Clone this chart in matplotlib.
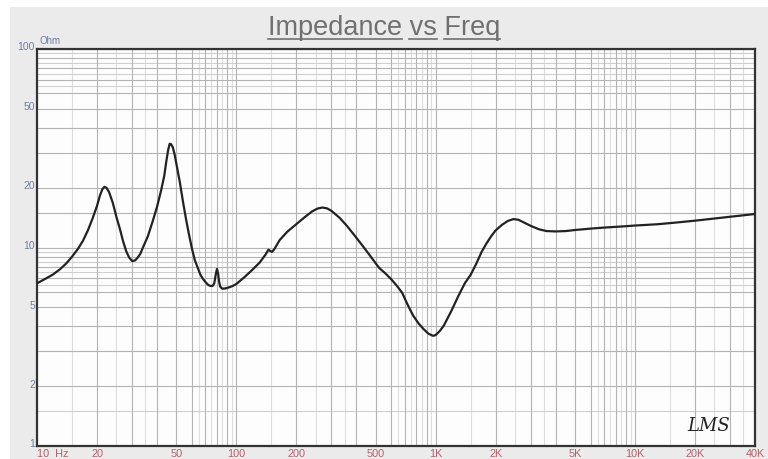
import numpy as np
import matplotlib
matplotlib.use("Agg")
import matplotlib.pyplot as plt
from matplotlib.patches import Rectangle
import matplotlib.transforms as mtransforms

# impedance curve (Hz, Ohm)
freq = [10, 11, 12, 13, 14, 15, 16, 17, 18, 19, 20, 20.7, 21.3, 21.8, 22.3, 23, 24, 25,
        26, 27, 28, 29, 30, 31, 32, 33, 34, 36, 38, 40, 42, 43.5, 44.5, 45.5, 46.3, 47,
        48, 49, 50, 52, 54, 56, 58, 60, 62, 64, 66, 68, 70, 72, 74, 76, 77.5, 79, 80,
        81, 82, 83, 85, 88, 92, 96, 100, 110, 120, 131, 140, 145, 148, 151, 155, 165,
        180, 200, 220, 240, 255, 270, 285, 300, 330, 360, 400, 440, 480, 520, 560, 600,
        640, 680, 720, 770, 820, 870, 920, 970, 1000, 1050, 1100, 1200, 1300, 1400,
        1500, 1600, 1700, 1800, 1900, 2000, 2150, 2300, 2450, 2600, 2800, 3000, 3300,
        3600, 4000, 4500, 5000, 6000, 7000, 8000, 9000, 10000, 13000, 16000, 20000,
        25000, 30000, 35000, 40000]
imped = [6.6, 6.95, 7.3, 7.75, 8.3, 9.0, 9.8, 10.8, 12.2, 14.0, 16.2, 18.3, 19.7, 20.2,
         20.0, 19.0, 16.8, 14.3, 12.5, 10.8, 9.6, 8.9, 8.55, 8.6, 8.9, 9.3, 10.0, 11.4,
         13.5, 16.0, 19.5, 23.0, 27.0, 31.0, 33.3, 33.2, 32.0, 29.5, 26.5, 21.5, 17.0,
         13.8, 11.5, 9.8, 8.6, 7.9, 7.3, 6.95, 6.7, 6.5, 6.4, 6.4, 6.6, 7.4, 7.8, 7.4,
         6.7, 6.35, 6.2, 6.22, 6.3, 6.4, 6.55, 7.1, 7.7, 8.4, 9.2, 9.75, 9.6, 9.5, 9.8,
         10.9, 12.0, 13.1, 14.2, 15.2, 15.7, 15.9, 15.75, 15.3, 14.1, 12.8, 11.2, 9.9,
         8.8, 7.9, 7.4, 6.9, 6.4, 5.9, 5.2, 4.55, 4.15, 3.88, 3.68, 3.59, 3.62, 3.8,
         4.05, 4.8, 5.7, 6.6, 7.3, 8.3, 9.5, 10.5, 11.4, 12.2, 13.0, 13.6, 13.9, 13.8,
         13.3, 12.85, 12.35, 12.1, 12.05, 12.1, 12.25, 12.45, 12.6, 12.7, 12.8, 12.9,
         13.1, 13.35, 13.65, 14.0, 14.3, 14.55, 14.75]

x_ticks = [20, 50, 100, 200, 500, 1000, 2000, 5000, 10000, 20000, 40000]
x_labels = ["20", "50", "100", "200", "500", "1K", "2K", "5K", "10K", "20K", "40K"]
y_ticks = [1, 2, 5, 10, 20, 50, 100]
y_labels = ["1", "2", "5", "10", "20", "50", "100"]

title_words = ["Impedance", "vs", "Freq"]

fig = plt.figure(figsize=(7.68, 4.6), dpi=100)
fig.patch.set_facecolor("white")
fig.patches.append(Rectangle((10 / 768, 0), 1, 1 - 8 / 460, transform=fig.transFigure,
                             facecolor="#ebebeb", edgecolor="none", zorder=-10))

ax = fig.add_axes([37 / 768, 1 - 447 / 460, 718 / 768, 397 / 460])
ax.set_facecolor("#fdfdfd")
ax.set_xscale("log")
ax.set_yscale("log")
ax.set_xlim(10, 40000)
ax.set_ylim(1, 100)

# grid, LMS style
strong = [2, 3, 4, 5, 6, 7, 8, 9]
light_x = [1.5, 2.5, 3.5, 6.5, 7.5, 8.5, 9.5]
light_y = [1.5, 6.5, 7.5, 8.5, 9.5]
for dec in [10, 100, 1000, 10000]:
    for m in strong + [10]:
        v = dec * m
        if v < 40000:
            ax.axvline(v, color="#b4b4b4", lw=0.8, zorder=1)
    for m in light_x:
        v = dec * m
        if v < 40000:
            ax.axvline(v, color="#dedede", lw=0.8, zorder=0.5)
for dec in [1, 10]:
    for m in strong + [10]:
        ax.axhline(dec * m, color="#b4b4b4", lw=0.8, zorder=1)
    for m in light_y:
        ax.axhline(dec * m, color="#cfcfcf", lw=0.8, zorder=0.5)
ax.axhline(15, color="#b4b4b4", lw=0.8, zorder=1)

ax.plot(freq, imped, color="#222222", lw=1.6, zorder=3, solid_joinstyle="round")

for s in ax.spines.values():
    s.set_color("#333333")
    s.set_linewidth(1.6)
ax.set_xticks([])
ax.set_yticks([])
ax.minorticks_off()
ax.tick_params(which="both", length=0, labelbottom=False, labelleft=False)

# tick labels
xcol = "#b4606c"
ycol = "#6e7e9e"
tx = mtransforms.blended_transform_factory(ax.transData, ax.transAxes)
for v, lab in zip(x_ticks, x_labels):
    ax.text(v, -0.017, lab, transform=tx, ha="center", va="center",
            fontsize=7.8, color=xcol, family="Liberation Sans")
ax.text(10, -0.017, "10  Hz", transform=tx, ha="left", va="center",
        fontsize=7.8, color=xcol, family="Liberation Sans")
ty = mtransforms.blended_transform_factory(ax.transAxes, ax.transData)
off = mtransforms.offset_copy(ty, fig=fig, x=-2, y=2.5, units="dots")
for v, lab in zip(y_ticks, y_labels):
    ax.text(0, v, lab, transform=off, ha="right", va="center",
            fontsize=7.5, color=ycol, family="Liberation Sans")
fig.text(40 / 768, 1 - 41 / 460, "Ohm", fontsize=7, color=ycol,
         family="Liberation Sans", va="center")

# LMS signature
ax.text(0.935, 0.03, "LMS", transform=ax.transAxes, fontsize=13, style="italic",
        color="#222222", family="DejaVu Serif", ha="center", va="bottom")

# title with underlined words
title = " ".join(title_words)
tfont = dict(fontsize=19.5, color="#707070", family="Liberation Sans")
ttl = fig.text(0.5, 1 - 28 / 460, title, ha="center", va="center", **tfont)
fig.canvas.draw()
r = fig.canvas.get_renderer()
bb = ttl.get_window_extent(r)

def text_w(s):
    t = fig.text(0, 0, s, **tfont)
    w = t.get_window_extent(r).width
    t.remove()
    return w

uy = bb.y0 + 1
for i, w in enumerate(title_words):
    full = text_w(" ".join(title_words[:i + 1]))
    ww = text_w(w)
    x1 = bb.x0 + full
    x0 = x1 - ww
    fig.add_artist(plt.Line2D([x0 / 768, x1 / 768], [uy / 460, uy / 460],
                              transform=fig.transFigure, color="#707070", lw=1.2))

fig.savefig("out.png", dpi=100, facecolor=fig.get_facecolor())
